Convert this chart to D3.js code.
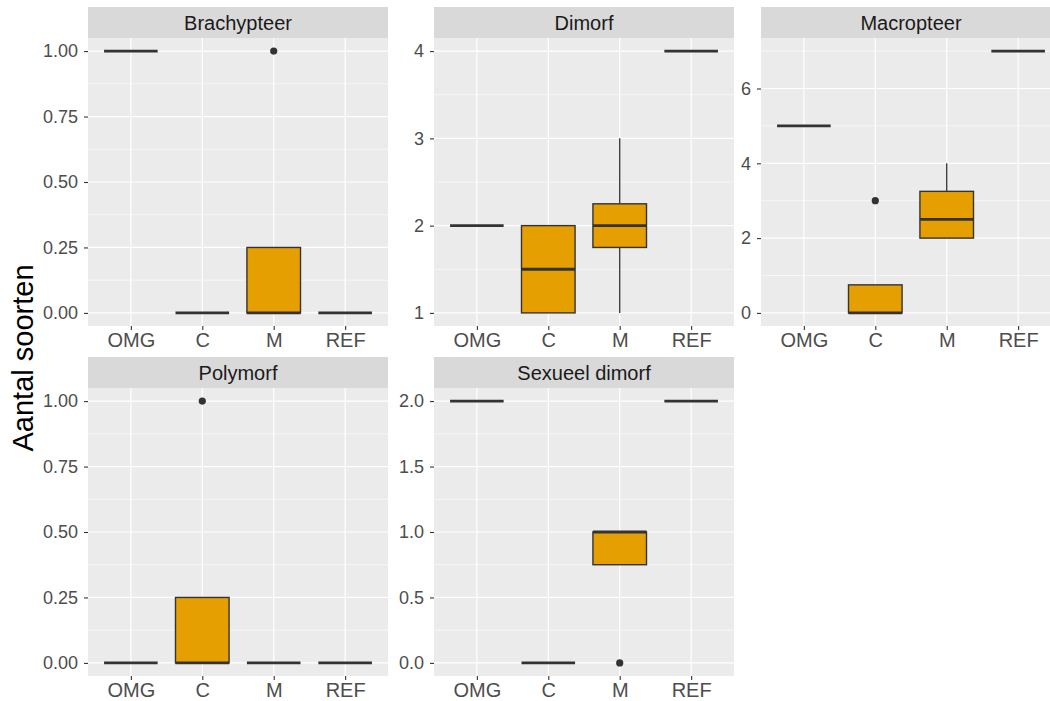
<!DOCTYPE html>
<html><head><meta charset="utf-8">
<script src="https://cdn.jsdelivr.net/npm/d3@7"></script>
<style>
html,body{margin:0;padding:0;background:#fff;overflow:hidden;}
svg{display:block;font-family:"Liberation Sans",Arial,sans-serif;}
</style></head>
<body><svg id="chart" width="1050" height="701"></svg>
<script>
// ---------- data ----------
const panelNames = ["Brachypteer", "Dimorf", "Macropteer", "Polymorf", "Sexueel dimorf"];
const groups = ["OMG", "C", "M", "REF"];
// per group: [lower whisker, q1, median, q3, upper whisker]
const brachypteerStats = [[1,1,1,1,1],[0,0,0,0,0],[0,0,0,0.25,0.25],[0,0,0,0,0]];
const brachypteerOutliers = [[],[],[1],[]];
const dimorfStats = [[2,2,2,2,2],[1,1,1.5,2,2],[1,1.75,2,2.25,3],[4,4,4,4,4]];
const dimorfOutliers = [[],[],[],[]];
const macropteerStats = [[5,5,5,5,5],[0,0,0,0.75,0.75],[2,2,2.5,3.25,4],[7,7,7,7,7]];
const macropteerOutliers = [[],[3],[],[]];
const polymorfStats = [[0,0,0,0,0],[0,0,0,0.25,0.25],[0,0,0,0,0],[0,0,0,0,0]];
const polymorfOutliers = [[],[1],[],[]];
const sexueelStats = [[2,2,2,2,2],[0,0,0,0,0],[0.75,0.75,1,1,1],[2,2,2,2,2]];
const sexueelOutliers = [[],[],[0],[]];
const brachypteerTicks = [0,0.25,0.5,0.75,1];
const dimorfTicks = [1,2,3,4];
const macropteerTicks = [0,2,4,6];
const polymorfTicks = [0,0.25,0.5,0.75,1];
const sexueelTicks = [0,0.5,1,1.5,2];
const tickFormats = [".2f", "d", "d", ".2f", ".1f"];
const yTitle = "Aantal soorten";

const statsList = [brachypteerStats, dimorfStats, macropteerStats, polymorfStats, sexueelStats];
const outList = [brachypteerOutliers, dimorfOutliers, macropteerOutliers, polymorfOutliers, sexueelOutliers];
const tickList = [brachypteerTicks, dimorfTicks, macropteerTicks, polymorfTicks, sexueelTicks];

// ---------- layout ----------
const colLeft = [88, 434, 761];
const rowTop = [7, 357];
const stripH = 31, plotW = 300, plotH = 288;
const boxFill = "#E69F00", ink = "#333333";

const svg = d3.select("#chart");

panelNames.forEach((name, i) => {
  const col = i % 3, row = Math.floor(i / 3);
  const left = colLeft[col], top = rowTop[row];
  const stats = statsList[i], outs = outList[i], ticks = tickList[i];
  const allVals = stats.flat().concat(outs.flat());
  const lo = d3.min(allVals), hi = d3.max(allVals), pad = (hi - lo) * 0.05;
  const y = d3.scaleLinear().domain([lo - pad, hi + pad]).range([plotH, 0]);
  const x = d3.scalePoint().domain(groups).range([0, plotW]).padding(0.6);
  const step = x.step();

  const g = svg.append("g").attr("transform", `translate(${left},${top + stripH})`);
  // strip
  svg.append("rect").attr("x", left).attr("y", top).attr("width", plotW).attr("height", stripH).attr("fill", "#D9D9D9");
  svg.append("text").attr("x", left + plotW / 2).attr("y", top + stripH / 2 + 7)
    .attr("text-anchor", "middle").attr("font-size", 20).attr("fill", "#1A1A1A").text(name);

  // panel background
  g.append("rect").attr("width", plotW).attr("height", plotH).attr("fill", "#EBEBEB");
  // minor grid
  const dom = y.domain();
  const tstep = ticks[1] - ticks[0];
  const minors = [];
  for (let k = -1; k < ticks.length; k++) {
    const v = ticks[0] + (k + 0.5) * tstep;
    if (v >= dom[0] && v <= dom[1]) minors.push(v);
  }
  g.selectAll(".minor").data(minors).join("line")
    .attr("x1", 0).attr("x2", plotW).attr("y1", d => y(d)).attr("y2", d => y(d))
    .attr("stroke", "#fff").attr("stroke-width", 0.6);
  g.selectAll(".majory").data(ticks).join("line")
    .attr("x1", 0).attr("x2", plotW).attr("y1", d => y(d)).attr("y2", d => y(d))
    .attr("stroke", "#fff").attr("stroke-width", 1.2);
  g.selectAll(".majorx").data(groups).join("line")
    .attr("x1", d => x(d)).attr("x2", d => x(d)).attr("y1", 0).attr("y2", plotH)
    .attr("stroke", "#fff").attr("stroke-width", 1.2);

  // boxes
  const bw = step * 0.75;
  groups.forEach((grp, j) => {
    const [wl, q1, med, q3, wh] = stats[j];
    const cx = x(grp);
    if (wh > q3) g.append("line").attr("x1", cx).attr("x2", cx).attr("y1", y(q3)).attr("y2", y(wh)).attr("stroke", ink).attr("stroke-width", 1.3);
    if (wl < q1) g.append("line").attr("x1", cx).attr("x2", cx).attr("y1", y(q1)).attr("y2", y(wl)).attr("stroke", ink).attr("stroke-width", 1.3);
    if (q3 > q1) {
      g.append("rect").attr("x", cx - bw / 2).attr("y", y(q3)).attr("width", bw).attr("height", y(q1) - y(q3))
        .attr("fill", boxFill).attr("stroke", ink).attr("stroke-width", 1.4);
    }
    g.append("line").attr("x1", cx - bw / 2).attr("x2", cx + bw / 2).attr("y1", y(med)).attr("y2", y(med))
      .attr("stroke", ink).attr("stroke-width", 2.8);
    outs[j].forEach(v => {
      g.append("circle").attr("cx", cx).attr("cy", y(v)).attr("r", 3.6).attr("fill", ink);
    });
  });

  // axes
  const fmt = d3.format(tickFormats[i]);
  const ya = g.append("g").call(d3.axisLeft(y).tickValues(ticks).tickSize(4).tickPadding(6).tickFormat(fmt));
  ya.select(".domain").remove();
  ya.selectAll("line").attr("stroke", ink).attr("stroke-width", 1.1);
  ya.selectAll("text").attr("fill", "#4D4D4D").attr("font-size", 18).attr("font-family", "Liberation Sans, Arial, sans-serif");
  const xa = g.append("g").attr("transform", `translate(0,${plotH})`).call(d3.axisBottom(x).tickSize(4).tickPadding(3));
  xa.select(".domain").remove();
  xa.selectAll("line").attr("stroke", ink).attr("stroke-width", 1.1);
  xa.selectAll("text").attr("fill", "#4D4D4D").attr("font-size", 20).attr("font-family", "Liberation Sans, Arial, sans-serif");
});

// y title
svg.append("text").attr("transform", "translate(33,358) rotate(-90)")
  .attr("text-anchor", "middle").attr("font-size", 29).attr("fill", "#000").text(yTitle);
</script></body></html>
